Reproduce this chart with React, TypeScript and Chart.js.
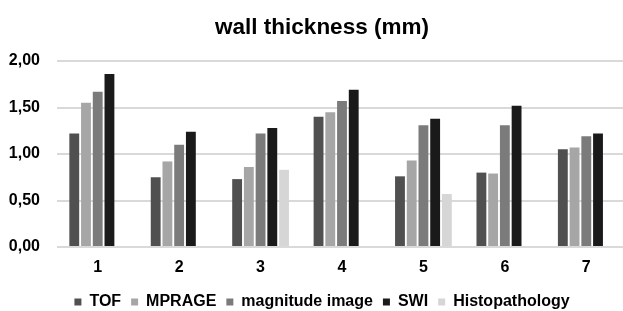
import React, { useEffect, useRef } from "react";
import { Chart, registerables } from "chart.js";

Chart.register(...registerables);

const categories = ["1", "2", "3", "4", "5", "6", "7"];
const tof = [1.22, 0.75, 0.73, 1.4, 0.76, 0.8, 1.05];
const mprage = [1.55, 0.92, 0.86, 1.45, 0.93, 0.79, 1.07];
const magnitude = [1.67, 1.1, 1.22, 1.57, 1.31, 1.31, 1.19];
const swi = [1.86, 1.24, 1.28, 1.69, 1.38, 1.52, 1.22];
const histo = [null, null, 0.83, null, 0.57, null, null];

const seriesNames = ["TOF", "MPRAGE", "magnitude image", "SWI", "Histopathology"];
const seriesColors = ["#505050", "#a6a6a6", "#7b7b7b", "#1a1a1a", "#d6d6d6"];

const FONT = "'Liberation Sans', Arial, Helvetica, sans-serif";

export default function App() {
  const ref = useRef<HTMLCanvasElement | null>(null);

  useEffect(() => {
    if (!ref.current) return;
    const values = [tof, mprage, magnitude, swi, histo];
    const chart = new Chart(ref.current, {
      type: "bar",
      data: {
        labels: categories,
        datasets: values.map((v, i) => ({
          label: seriesNames[i],
          data: v as any,
          backgroundColor: seriesColors[i],
          borderWidth: 0,
          categoryPercentage: 0.72,
          barPercentage: 0.84,
        })),
      },
      options: {
        animation: false,
        responsive: false,
        maintainAspectRatio: false,
        layout: { padding: { left: 17, right: 17, top: 0, bottom: 0 } },
        plugins: {
          title: {
            display: true,
            text: "wall thickness (mm)",
            color: "#000",
            font: { family: FONT, size: 22.5, weight: "bold" },
            padding: { top: 14, bottom: 20 },
          },
          legend: {
            position: "bottom",
            labels: {
              color: "#000",
              boxWidth: 7,
              boxHeight: 7,
              padding: 10,
              font: { family: FONT, size: 16, weight: "bold" },
            },
          },
          tooltip: { enabled: false },
        },
        scales: {
          x: {
            grid: { display: false, drawTicks: false },
            border: { display: false },
            ticks: {
              color: "#000",
              font: { family: FONT, size: 16, weight: "bold" },
              padding: 11,
            },
            afterFit: (s: any) => {
              s.height = 37;
            },
          },
          y: {
            min: 0,
            max: 2,
            border: { display: false },
            grid: { color: "#d9d9d9", lineWidth: 2, drawTicks: false },
            ticks: {
              stepSize: 0.5,
              color: "#000",
              padding: 17,
              font: { family: FONT, size: 16, weight: "bold" },
              callback: (v: any) => Number(v).toFixed(2).replace(".", ","),
            },
            afterFit: (s: any) => {
              s.width = 40;
              s._computeLabelArea = () => undefined;
            },
          },
        },
      },
    });
    return () => chart.destroy();
  }, []);

  return (
    <div style={{ position: "fixed", left: 0, top: 0, width: 623, height: 311, overflow: "hidden", background: "#fff" }}>
      <canvas ref={ref} width={644} height={320} style={{ display: "block", width: 644, height: 320 }} />
    </div>
  );
}
